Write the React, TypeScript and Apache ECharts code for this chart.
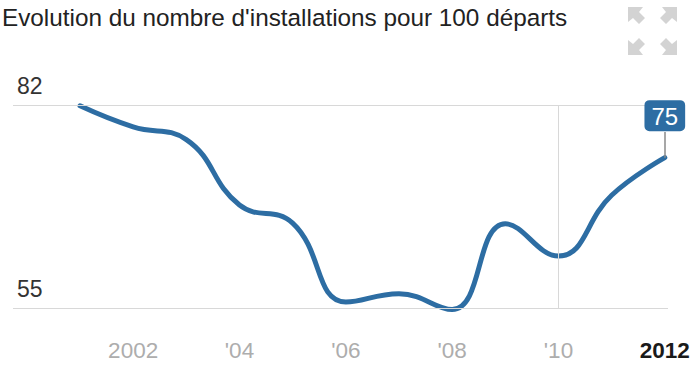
import React, { useEffect, useRef } from "react";
import * as echarts from "echarts";

const years = [2001, 2002, 2003, 2004, 2005, 2006, 2007, 2008, 2009, 2010, 2011, 2012];
const values = [81.9, 79.1, 77.4, 68.7, 66.3, 55.8, 56.9, 54.8, 66.2, 61.9, 70.0, 75];
const xTickValues = [2002, 2004, 2006, 2008, 2010, 2012];
const yTickValues = [55, 82];
const titleText = "Evolution du nombre d'installations pour 100 départs";

const FONT = "'Liberation Sans Narrow', 'Arial Narrow', 'Liberation Sans', Arial, sans-serif";
const BLUE = "#2d6da3";

function iconPoints(ox: number, oy: number, fx: number, fy: number): number[][] {
  const base = [
    [0, 0], [15, 0], [11, 5], [17, 11], [11, 17], [5, 11], [0, 15],
  ];
  return base.map(([px, py]) => [ox + fx * px, oy + fy * py]);
}

export default function App() {
  const ref = useRef<HTMLDivElement>(null);
  useEffect(() => {
    if (!ref.current) return;
    const chart = echarts.init(ref.current, undefined, { renderer: "svg" });
    const data = years.map((y, i) => [y, values[i]]);
    chart.setOption({
      animation: false,
      backgroundColor: "#ffffff",
      title: {
        text: titleText,
        left: 2,
        top: 5,
        padding: 0,
        textStyle: { fontFamily: FONT, fontSize: 24.3, fontWeight: "normal", color: "#222" },
      },
      graphic: [
        { type: "polygon", shape: { points: iconPoints(628, 7, 1, 1) }, style: { fill: "#d3d3d3" } },
        { type: "polygon", shape: { points: iconPoints(677, 7, -1, 1) }, style: { fill: "#d3d3d3" } },
        { type: "polygon", shape: { points: iconPoints(628, 55, 1, -1) }, style: { fill: "#d3d3d3" } },
        { type: "polygon", shape: { points: iconPoints(677, 55, -1, -1) }, style: { fill: "#d3d3d3" } },
      ],
      grid: { left: 13, right: 22, top: 105, bottom: 64, outerBoundsMode: "none", containLabel: false },
      xAxis: {
        type: "value",
        min: 1999.74,
        max: 2012.06,
        splitLine: { show: false },
        axisLine: { show: false },
        axisTick: { show: false },
        axisLabel: {
          customValues: xTickValues,
          margin: 31,
          fontFamily: FONT,
          fontSize: 22.5,
          color: "#adadad",
          formatter: (v: number) => {
            if (v === 2012) return "{b|2012}";
            if (v === 2002) return "2002";
            return "'" + String(v).slice(2);
          },
          rich: {
            b: { fontFamily: FONT, fontSize: 22.5, fontWeight: "bold", color: "#1a1a1a" },
          },
        },
      },
      yAxis: {
        type: "value",
        min: 55,
        max: 82,
        splitLine: { show: false },
        axisLine: { show: false },
        axisTick: { show: false },
        axisLabel: {
          customValues: yTickValues,
          inside: true,
          margin: 4,
          verticalAlign: "bottom",
          padding: [0, 0, 8, 0],
          fontFamily: FONT,
          fontSize: 23,
          color: "#333",
        },
      },
      series: [
        {
          type: "line",
          data: [],
          z: 1,
          silent: true,
          markLine: {
            silent: true,
            symbol: ["none", "none"],
            label: { show: false },
            lineStyle: { color: "#d8d8d8", width: 1, type: "solid" },
            data: [{ yAxis: 82 }, { yAxis: 55 }, { xAxis: 2010 }],
          },
        },
        {
          type: "line",
          data,
          z: 3,
          smooth: 0.45,
          clip: false,
          showSymbol: false,
          lineStyle: { color: BLUE, width: 5, cap: "round" },
          markLine: {
            silent: true,
            symbol: ["none", "none"],
            label: { show: false },
            lineStyle: { color: "#8a8a8a", width: 1.5, type: "solid" },
            data: [[{ coord: [2012, 75] }, { coord: [2012, 78.4] }]],
          },
          markPoint: {
            silent: true,
            symbol: "rect",
            symbolSize: 1,
            itemStyle: { color: "rgba(0,0,0,0)" },
            label: {
              show: true,
              position: "top",
              distance: 26,
              formatter: "75",
              backgroundColor: BLUE,
              color: "#fff",
              fontFamily: FONT,
              fontSize: 24,
              borderRadius: 5,
              padding: [4, 7, 3, 7],
            },
            data: [{ coord: [2012, 75], value: 75 }],
          },
        },
      ],
    });
    return () => chart.dispose();
  }, []);
  return (
    <div
      ref={ref}
      style={{ position: "fixed", left: 0, top: 0, width: 690, height: 372 }}
    />
  );
}
